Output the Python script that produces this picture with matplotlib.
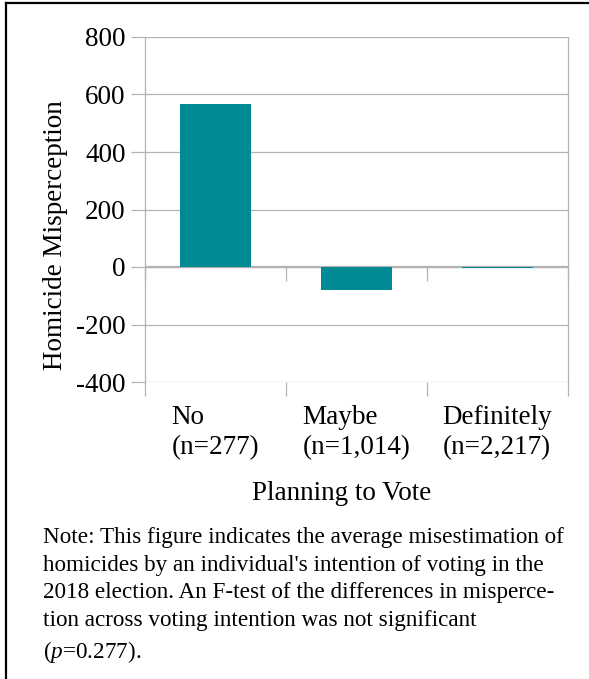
import numpy as np
import matplotlib
matplotlib.use("Agg")
import matplotlib.pyplot as plt
from matplotlib.lines import Line2D

plt.rcParams['font.family'] = ['Liberation Serif', 'DejaVu Serif']
plt.rcParams['mathtext.fontset'] = 'custom'
plt.rcParams['mathtext.rm'] = 'Liberation Serif'
plt.rcParams['mathtext.it'] = 'Liberation Serif:italic'

# data
categories = ["No\n(n=277)", "Maybe\n(n=1,014)", "Definitely\n(n=2,217)"]
misperception = [568, -80, -4]
yticks = [-400, -200, 0, 200, 400, 600, 800]

teal = "#008A94"
grey = "#b3b3b3"
W, H = 589, 679

fig = plt.figure(figsize=(W / 100, H / 100), dpi=100)
ax = fig.add_axes([145 / W, 1 - 382 / H, (568 - 145) / W, (382 - 37) / H])

x = np.arange(len(categories))
ax.bar(x, misperception, width=0.5, color=teal, zorder=3)

ax.set_xlim(-0.5, len(categories) - 0.5)
ax.set_ylim(yticks[0], yticks[-1])
ax.set_yticks(yticks)
ax.set_yticklabels([str(v) for v in yticks], fontsize=19.5)
ax.yaxis.grid(True, color=grey, lw=0.9, zorder=0)
ax.axhline(0, color=grey, lw=1.6, zorder=2)

ax.set_xticks(x)
ax.set_xticklabels(categories, fontsize=19.5, multialignment='left', linespacing=1.25)
ax.set_xticks(np.arange(len(categories) + 1) - 0.5, minor=True)
ax.tick_params(axis='x', which='major', length=0, pad=16.5)
ax.tick_params(axis='x', which='minor', length=10, width=0.9, color=grey, direction='out')
ax.tick_params(axis='y', length=10, width=0.9, color=grey, direction='out', pad=4)

for side in ['top', 'bottom']:
    ax.spines[side].set_visible(False)
for side in ['left', 'right']:
    ax.spines[side].set_color(grey)
    ax.spines[side].set_linewidth(0.9)

# category tick marks on the zero line
sec = ax.secondary_xaxis(1 / 3)
sec.set_xticks(np.arange(len(categories) + 1) - 0.5)
sec.set_xticklabels([])
sec.tick_params(length=10, width=0.9, color=grey, direction='out')
sec.spines['bottom'].set_visible(False)

fig.text(55 / W, 1 - 235 / H, "Homicide Misperception", rotation=90,
         ha='center', va='center', fontsize=19.5)
fig.text(342 / W, 1 - 494 / H, "Planning to Vote", ha='center', va='center', fontsize=19.5)

note = ("Note: This figure indicates the average misestimation of\n"
        "homicides by an individual's intention of voting in the\n"
        "2018 election. An F-test of the differences in misperce-\n"
        "tion across voting intention was not significant\n"
        "($\\mathit{p}$=0.277).")
fig.text(43 / W, 1 - 527 / H, note, ha='left', va='top', fontsize=16.7, linespacing=1.42)

# frame lines along top and left edge
fig.add_artist(Line2D([6 / W, 1], [1 - 2.5 / H, 1 - 2.5 / H], color='black', lw=1.6))
fig.add_artist(Line2D([6 / W, 6 / W], [0, 1 - 2.5 / H], color='black', lw=1.6))

fig.savefig("out.png", dpi=100)
